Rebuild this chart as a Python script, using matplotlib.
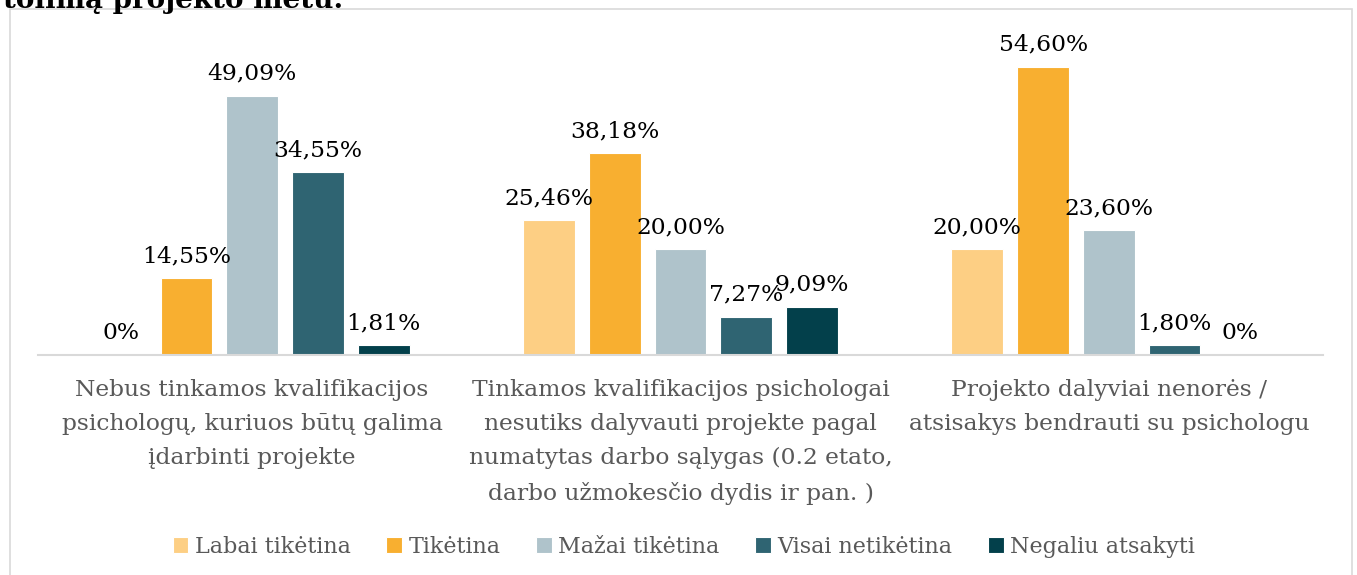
import matplotlib.pyplot as plt
from matplotlib.patches import Rectangle
import numpy as np

categories = [
    'Nebus tinkamos kvalifikacijos\npsichologų, kuriuos būtų galima\nįdarbinti projekte',
    'Tinkamos kvalifikacijos psichologai\nnesutiks dalyvauti projekte pagal\nnumatytas darbo sąlygas (0.2 etato,\ndarbo užmokesčio dydis ir pan. )',
    'Projekto dalyviai nenorės /\natsisakys bendrauti su psichologu',
]
series = ['Labai tikėtina', 'Tikėtina', 'Mažai tikėtina', 'Visai netikėtina', 'Negaliu atsakyti']
values = [
    [0.00, 25.46, 20.00],
    [14.55, 38.18, 54.60],
    [49.09, 20.00, 23.60],
    [34.55, 7.27, 1.80],
    [1.81, 9.09, 0.00],
]
labels = [
    ['0%', '25,46%', '20,00%'],
    ['14,55%', '38,18%', '54,60%'],
    ['49,09%', '20,00%', '23,60%'],
    ['34,55%', '7,27%', '1,80%'],
    ['1,81%', '9,09%', '0%'],
]
colors = ['#FDCF84', '#F8AF30', '#AFC3CB', '#2F6472', '#03404B']

SERIF = ['DejaVu Serif']

fig = plt.figure(figsize=(13.57, 5.75), dpi=100)
fig.patch.set_facecolor('white')

# outer chart frame, cut at the bottom edge like the document it sits in
fig.patches.append(Rectangle((10 / 1357, -0.01), 1342 / 1357, 1 - 9 / 575 + 0.01,
                             transform=fig.transFigure, fill=False,
                             edgecolor='#D9D9D9', linewidth=1.2))
fig.text(0.002, 1.0, 'tolimą projekto metu.', family=SERIF, fontsize=20,
         fontweight='bold', va='center', ha='left', color='black')

ax = fig.add_axes([38 / 1357, 1 - 355 / 575, 1285 / 1357, 317 / 575])
x = np.arange(len(categories))
step = 0.1535
width = 0.121
for i, (name, vals, labs, col) in enumerate(zip(series, values, labels, colors)):
    pos = x + (i - 2) * step
    bars = ax.bar(pos, vals, width, color=col, edgecolor='white', linewidth=0.8, label=name)
    for b, v, t in zip(bars, vals, labs):
        ax.annotate(t, (b.get_x() + b.get_width() / 2, v), xytext=(0, 8),
                    textcoords='offset points', ha='center', va='bottom',
                    family=SERIF, fontsize=16.8, color='black')

ax.set_xlim(-0.5, 2.5)
ax.set_ylim(0, 60)
ax.set_yticks([])
ax.set_xticks(x)
ax.set_xticklabels(categories, family=SERIF, fontsize=16.8, color='#595959', linespacing=1.72)
ax.tick_params(axis='x', length=0, pad=17)
for s in ['top', 'right', 'left']:
    ax.spines[s].set_visible(False)
ax.spines['bottom'].set_color('#D9D9D9')
ax.spines['bottom'].set_linewidth(1.5)

leg = fig.legend(loc='center', bbox_to_anchor=(684 / 1357, 1 - 547 / 575), ncol=5,
                 frameon=False, prop={'family': SERIF, 'size': 16},
                 handlelength=0.7, handleheight=0.7, handletextpad=0.3, columnspacing=1.6)
for t in leg.get_texts():
    t.set_color('#595959')

fig.savefig('out.png', dpi=100)
